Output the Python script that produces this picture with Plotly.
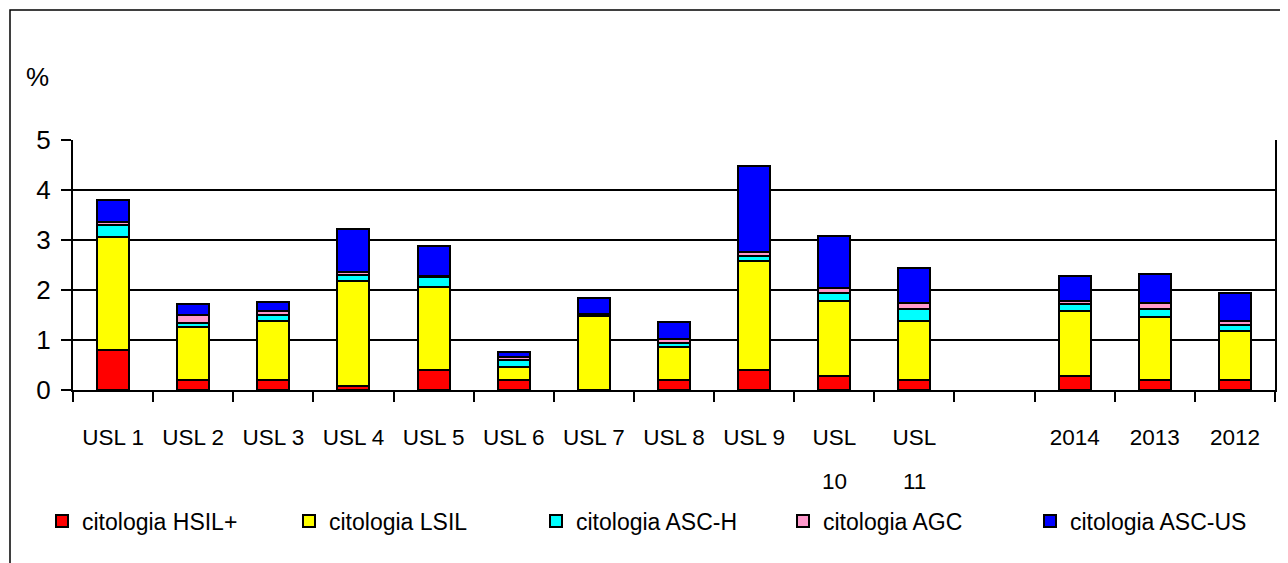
import plotly.graph_objects as go

categories = ["USL 1", "USL 2", "USL 3", "USL 4", "USL 5", "USL 6", "USL 7", "USL 8",
              "USL 9", "USL 10", "USL 11", " ", "2014", "2013", "2012"]
tick_labels = ["USL 1", "USL 2", "USL 3", "USL 4", "USL 5", "USL 6", "USL 7", "USL 8",
               "USL 9", "USL", "USL", " ", "2014", "2013", "2012"]
# second lines of the wrapped labels
wrapped_cats = ["USL 10", "USL 11"]
wrapped_second = ["10", "11"]

hsil = [0.80, 0.20, 0.20, 0.08, 0.40, 0.20, 0.00, 0.20, 0.40, 0.28, 0.20, None, 0.28, 0.20, 0.20]
lsil = [2.27, 1.07, 1.19, 2.11, 1.67, 0.27, 1.48, 0.67, 2.19, 1.51, 1.19, None, 1.31, 1.27, 0.98]
asch = [0.24, 0.08, 0.12, 0.11, 0.20, 0.13, 0.03, 0.08, 0.09, 0.16, 0.23, None, 0.13, 0.16, 0.12]
agc = [0.05, 0.15, 0.08, 0.07, 0.02, 0.07, 0.01, 0.08, 0.08, 0.09, 0.13, None, 0.07, 0.12, 0.09]
ascus = [0.44, 0.22, 0.17, 0.86, 0.59, 0.10, 0.33, 0.34, 1.73, 1.04, 0.70, None, 0.49, 0.57, 0.56]

series = [
    ("citologia HSIL+", hsil, "#FF0000"),
    ("citologia LSIL", lsil, "#FFFF00"),
    ("citologia ASC-H", asch, "#00FFFF"),
    ("citologia AGC", agc, "#FF99CC"),
    ("citologia ASC-US", ascus, "#0000FF"),
]

FONT = "Liberation Sans, Arial, sans-serif"

fig = go.Figure()
for name, vals, color in series:
    fig.add_trace(go.Bar(
        x=categories, y=vals, name=name, width=0.4,
        marker=dict(color=color, line=dict(color="black", width=2)),
    ))

# page has an 8px body margin; work in screen pixels and convert
OFF = 8
W, H = 1280, 555
L, R, T, B = 73 - OFF, 13, 140 - OFF, 173
pw, ph = W - L - R, H - T - B

def px(sx):
    return (sx - OFF - L) / pw

def py(sy):
    return (H - B - (sy - OFF)) / ph

annotations = [dict(text="%", xref="paper", yref="paper", x=px(37), y=py(77),
                    xanchor="center", yanchor="middle", showarrow=False,
                    font=dict(size=26, family=FONT))]
for cat, txt in zip(wrapped_cats, wrapped_second):
    annotations.append(dict(text=txt, xref="x", yref="paper", x=cat, y=py(482),
                            xanchor="center", yanchor="middle", showarrow=False,
                            font=dict(size=22.5, family=FONT)))

fig.update_layout(
    width=W, height=H, barmode="stack",
    margin=dict(l=L, r=R, t=T, b=B, autoexpand=False),
    paper_bgcolor="white", plot_bgcolor="white",
    font=dict(family=FONT, color="black"),
    xaxis=dict(type="category", categoryorder="array", categoryarray=categories,
               tickmode="array", tickvals=categories, ticktext=tick_labels,
               tickangle=0, automargin=False, ticklabelstandoff=26,
               tickson="boundaries", ticks="outside", ticklen=10, tickwidth=2,
               tickcolor="black", showline=True, linecolor="black", linewidth=2,
               showgrid=False, tickfont=dict(size=22.5, family=FONT), fixedrange=True),
    yaxis=dict(range=[0, 5], tickvals=[0, 1, 2, 3, 4, 5], ticks="outside", ticklen=10,
               tickwidth=2, tickcolor="black", showline=True, linecolor="black",
               linewidth=2, mirror=True, showgrid=True, gridcolor="black", gridwidth=2,
               zeroline=False, automargin=False, ticklabelstandoff=5,
               tickfont=dict(size=26, family=FONT), fixedrange=True),
    legend=dict(orientation="h", x=px(42), xanchor="left", y=py(521), yanchor="middle",
                font=dict(size=23, family=FONT), traceorder="normal",
                itemsizing="constant", entrywidth=202, entrywidthmode="pixels"),
    showlegend=True,
    shapes=[dict(type="rect", xref="paper", yref="paper", x0=px(10), x1=px(1310),
                 y0=py(600), y1=py(10), line=dict(color="black", width=1.5),
                 fillcolor="rgba(0,0,0,0)", layer="below")],
    annotations=annotations,
)

fig.write_html("out.html")
